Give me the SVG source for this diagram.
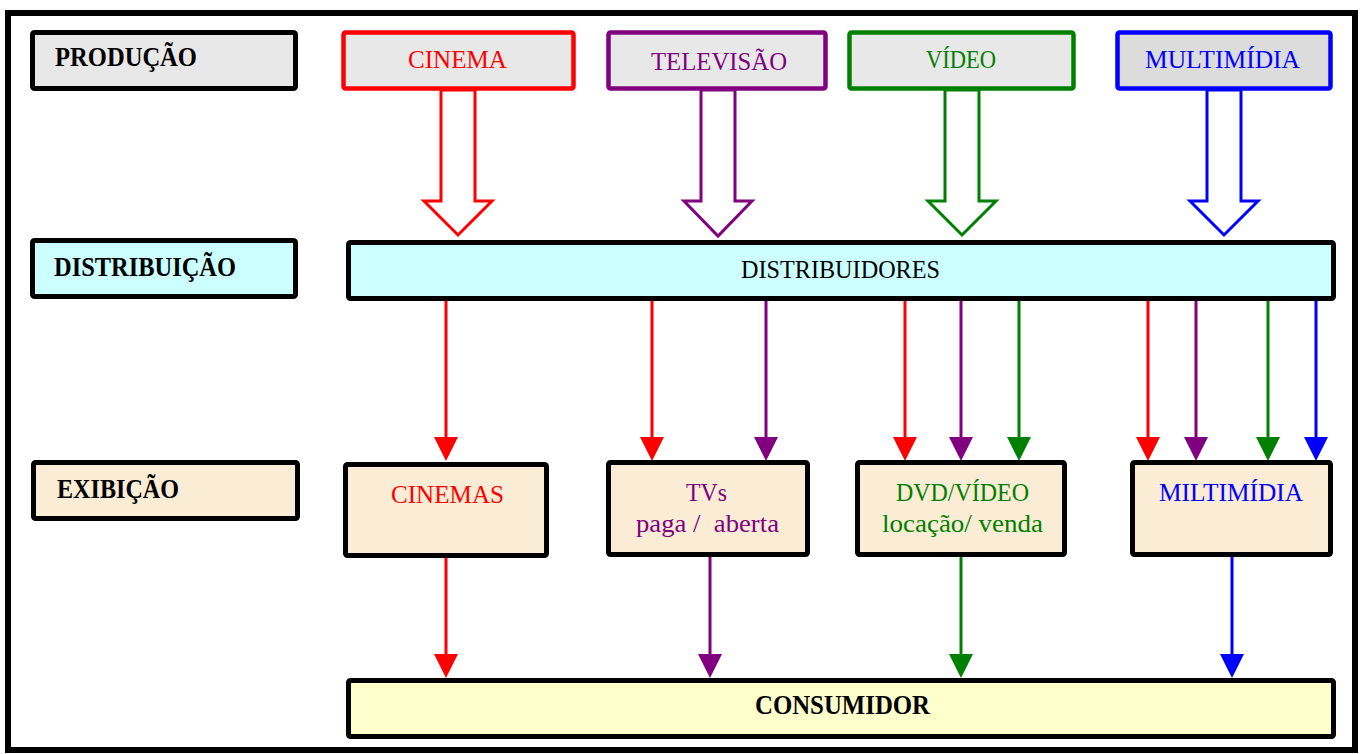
<svg xmlns="http://www.w3.org/2000/svg" width="1362" height="754" viewBox="0 0 1362 754">
<style>
.box{stroke:#000;stroke-width:5}
.lab{fill:#e8e8e8}
.cy{fill:#ccffff}
.bg{fill:#fbecd5}
.ye{fill:#ffffcc}
.cbox{stroke-width:4.5}
text{font-family:"Liberation Serif","Times New Roman",serif;font-size:25px;white-space:pre}
.b{font-weight:bold;font-size:27px}
.hol{fill:#fff;stroke-width:3;stroke-linejoin:miter}
.ln{stroke-width:3;fill:none}
</style>
<defs>
<marker id="mr" markerUnits="userSpaceOnUse" markerWidth="24" markerHeight="24" refX="13" refY="12" orient="auto"><path d="M0,0 L24,12 L0,24 z" fill="#ff0000"/></marker>
<marker id="mp" markerUnits="userSpaceOnUse" markerWidth="24" markerHeight="24" refX="13" refY="12" orient="auto"><path d="M0,0 L24,12 L0,24 z" fill="#800080"/></marker>
<marker id="mg" markerUnits="userSpaceOnUse" markerWidth="24" markerHeight="24" refX="13" refY="12" orient="auto"><path d="M0,0 L24,12 L0,24 z" fill="#008000"/></marker>
<marker id="mb" markerUnits="userSpaceOnUse" markerWidth="24" markerHeight="24" refX="13" refY="12" orient="auto"><path d="M0,0 L24,12 L0,24 z" fill="#0000ff"/></marker>
</defs>
<rect x="0" y="0" width="1362" height="754" fill="#fff"/>
<rect x="8" y="13" width="1347" height="737" fill="#fff" stroke="#000" stroke-width="6"/>

<g id="connectors">
<polygon class="hol" stroke="#ff0000" points="441,90 475,90 475,201 492,201 458,235 424,201 441,201"/>
<polygon class="hol" stroke="#800080" points="701,90 735,90 735,201 752,201 718,236 684,201 701,201"/>
<polygon class="hol" stroke="#008000" points="945,90 979,90 979,201 996,201 962,235 928,201 945,201"/>
<polygon class="hol" stroke="#0000ff" points="1207,90 1241,90 1241,201 1258,201 1224,235 1190,201 1207,201"/>

<line class="ln" stroke="#ff0000" x1="446" y1="300" x2="446" y2="450" marker-end="url(#mr)"/>
<line class="ln" stroke="#ff0000" x1="652" y1="300" x2="652" y2="450" marker-end="url(#mr)"/>
<line class="ln" stroke="#800080" x1="766" y1="300" x2="766" y2="450" marker-end="url(#mp)"/>
<line class="ln" stroke="#ff0000" x1="905" y1="300" x2="905" y2="450" marker-end="url(#mr)"/>
<line class="ln" stroke="#800080" x1="961" y1="300" x2="961" y2="450" marker-end="url(#mp)"/>
<line class="ln" stroke="#008000" x1="1019" y1="300" x2="1019" y2="450" marker-end="url(#mg)"/>
<line class="ln" stroke="#ff0000" x1="1148" y1="300" x2="1148" y2="450" marker-end="url(#mr)"/>
<line class="ln" stroke="#800080" x1="1196" y1="300" x2="1196" y2="450" marker-end="url(#mp)"/>
<line class="ln" stroke="#008000" x1="1268" y1="300" x2="1268" y2="450" marker-end="url(#mg)"/>
<line class="ln" stroke="#0000ff" x1="1316" y1="300" x2="1316" y2="450" marker-end="url(#mb)"/>

<line class="ln" stroke="#ff0000" x1="446" y1="557" x2="446" y2="667" marker-end="url(#mr)"/>
<line class="ln" stroke="#800080" x1="710" y1="557" x2="710" y2="667" marker-end="url(#mp)"/>
<line class="ln" stroke="#008000" x1="961" y1="557" x2="961" y2="667" marker-end="url(#mg)"/>
<line class="ln" stroke="#0000ff" x1="1232" y1="557" x2="1232" y2="667" marker-end="url(#mb)"/>
</g>

<g id="producao"><rect class="box lab" x="32.5" y="32.5" width="263" height="56" rx="2"/><text class="b" x="55" y="66" textLength="142" lengthAdjust="spacingAndGlyphs">PRODUÇÃO</text></g>
<g id="cinema"><rect class="box lab cbox" x="343.5" y="32.5" width="230" height="56" rx="2" style="stroke:#ff0000"/><text x="408" y="68" fill="#ff0000" textLength="99" lengthAdjust="spacingAndGlyphs">CINEMA</text></g>
<g id="televisao"><rect class="box lab cbox" x="608.5" y="32.5" width="217" height="56" rx="2" style="stroke:#800080"/><text x="651" y="70" fill="#800080" textLength="136" lengthAdjust="spacingAndGlyphs">TELEVISÃO</text></g>
<g id="video"><rect class="box lab cbox" x="849.5" y="32.5" width="224" height="56" rx="2" style="stroke:#008000"/><text x="926" y="68" fill="#008000" textLength="70" lengthAdjust="spacingAndGlyphs">VÍDEO</text></g>
<g id="multimidia"><rect class="box cbox" x="1117.5" y="32.5" width="213" height="56" rx="2" style="stroke:#0000ff;fill:#dcdcdc"/><text x="1145" y="68" fill="#0000ff" textLength="155" lengthAdjust="spacingAndGlyphs">MULTIMÍDIA</text></g>

<g id="distribuicao"><rect class="box cy" x="32.5" y="240.5" width="263" height="56" rx="2"/><text class="b" x="54" y="276" textLength="182" lengthAdjust="spacingAndGlyphs">DISTRIBUIÇÃO</text></g>
<g id="distribuidores"><rect class="box cy" x="348.5" y="242.5" width="985" height="56" rx="2"/><text x="741" y="278" textLength="199" lengthAdjust="spacingAndGlyphs">DISTRIBUIDORES</text></g>

<g id="exibicao"><rect class="box bg" x="33.5" y="462.5" width="264" height="56" rx="2"/><text class="b" x="57" y="498" textLength="122" lengthAdjust="spacingAndGlyphs">EXIBIÇÃO</text></g>
<g id="cinemas"><rect class="box bg" x="345.5" y="464.5" width="201" height="91" rx="2"/><text x="391" y="503" fill="#ff0000" textLength="113" lengthAdjust="spacingAndGlyphs">CINEMAS</text></g>
<g id="tvs"><rect class="box bg" x="608.5" y="462.5" width="199" height="92" rx="2"/><text x="686" y="501" fill="#800080" textLength="41" lengthAdjust="spacingAndGlyphs">TVs</text><text x="636" y="532" fill="#800080" textLength="143" lengthAdjust="spacingAndGlyphs">paga /  aberta</text></g>
<g id="dvd"><rect class="box bg" x="857.5" y="462.5" width="207" height="92" rx="2"/><text x="896" y="501" fill="#008000" textLength="133" lengthAdjust="spacingAndGlyphs">DVD/VÍDEO</text><text x="882" y="532" fill="#008000" textLength="161" lengthAdjust="spacingAndGlyphs">locação/ venda</text></g>
<g id="miltimidia"><rect class="box bg" x="1132.5" y="462.5" width="198" height="92" rx="2"/><text x="1159" y="501" fill="#0000ff" textLength="144" lengthAdjust="spacingAndGlyphs">MILTIMÍDIA</text></g>

<g id="consumidor"><rect class="box ye" x="348.5" y="680.5" width="985" height="56" rx="2"/><text class="b" x="755" y="714" textLength="175" lengthAdjust="spacingAndGlyphs">CONSUMIDOR</text></g>
</svg>
